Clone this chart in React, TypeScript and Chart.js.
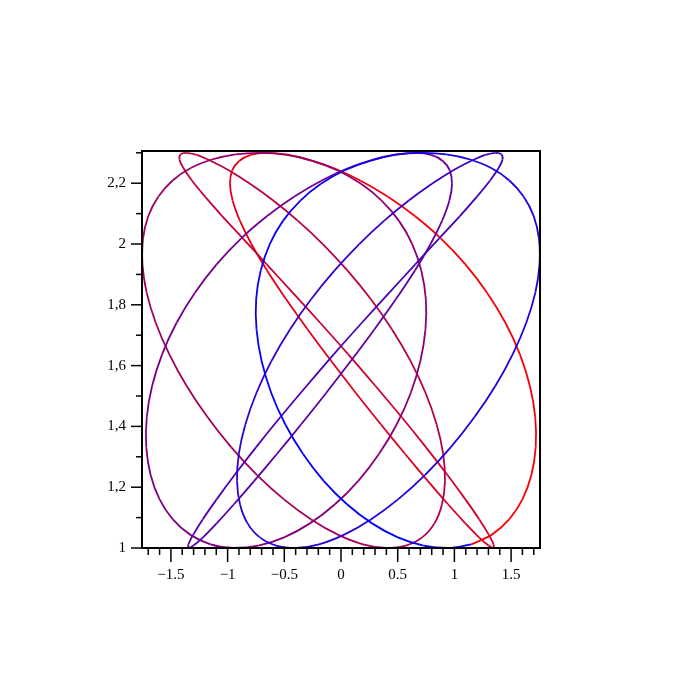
import React, { useEffect, useRef } from "react";
import { Chart, registerables } from "chart.js";
Chart.register(...registerables);

// Axis ticks
const xTicks = [-1.5, -1, -0.5, 0, 0.5, 1, 1.5];
const xTickLabels = ["−1.5", "−1", "−0.5", "0", "0.5", "1", "1.5"];
const yTicks = [1, 1.2, 1.4, 1.6, 1.8, 2, 2.2];
const yTickLabels = ["1", "1,2", "1,4", "1,6", "1,8", "2", "2,2"];
const xMinorTicks = [-1.7, -1.6, -1.4, -1.3, -1.2, -1.1, -0.9, -0.8, -0.7, -0.6, -0.4, -0.3, -0.2, -0.1,
  0.1, 0.2, 0.3, 0.4, 0.6, 0.7, 0.8, 0.9, 1.1, 1.2, 1.3, 1.4, 1.6, 1.7];
const yMinorTicks = [1.1, 1.3, 1.5, 1.7, 1.9, 2.1, 2.3];

// Points along the closed curve, in drawing order (start = red, end = blue)
const curveX = [
  1.150, 1.331, 1.483, 1.600, 1.679, 1.717, 1.713, 1.666, 1.577, 1.450,
  1.288, 1.097, 0.882, 0.651, 0.411, 0.170, -0.065, -0.286, -0.485, -0.657,
  -0.796, -0.898, -0.959, -0.979, -0.956, -0.892, -0.790, -0.652, -0.485, -0.294,
  -0.086, 0.131, 0.351, 0.564, 0.765, 0.944, 1.097, 1.217, 1.301, 1.344,
  1.345, 1.303, 1.220, 1.097, 0.939, 0.750, 0.536, 0.304, 0.062, -0.184,
  -0.426, -0.655, -0.864, -1.048, -1.199, -1.315, -1.390, -1.424, -1.415, -1.364,
  -1.273, -1.146, -0.987, -0.802, -0.598, -0.382, -0.161, 0.056, 0.262, 0.450,
  0.614, 0.746, 0.843, 0.901, 0.917, 0.891, 0.824, 0.716, 0.572, 0.396,
  0.194, -0.028, -0.263, -0.503, -0.740, -0.967, -1.176, -1.361, -1.515, -1.634,
  -1.714, -1.751, -1.746, -1.699, -1.610, -1.485, -1.325, -1.138, -0.930, -0.707,
  -0.477, -0.248, -0.028, 0.177, 0.358, 0.510, 0.628, 0.708, 0.748, 0.745,
  0.700, 0.615, 0.492, 0.336, 0.153, -0.053, -0.274, -0.501, -0.728, -0.947,
  -1.150, -1.331, -1.483, -1.600, -1.679, -1.717, -1.713, -1.666, -1.577, -1.450,
  -1.288, -1.097, -0.882, -0.651, -0.411, -0.170, 0.065, 0.286, 0.485, 0.657,
  0.796, 0.898, 0.959, 0.979, 0.956, 0.892, 0.790, 0.652, 0.485, 0.294,
  0.086, -0.131, -0.351, -0.564, -0.765, -0.944, -1.097, -1.217, -1.301, -1.344,
  -1.345, -1.303, -1.220, -1.097, -0.939, -0.750, -0.536, -0.304, -0.062, 0.184,
  0.426, 0.655, 0.864, 1.048, 1.199, 1.315, 1.390, 1.424, 1.415, 1.364,
  1.273, 1.146, 0.987, 0.802, 0.598, 0.382, 0.161, -0.056, -0.262, -0.450,
  -0.614, -0.746, -0.843, -0.901, -0.917, -0.891, -0.824, -0.716, -0.572, -0.396,
  -0.194, 0.028, 0.263, 0.503, 0.740, 0.967, 1.176, 1.361, 1.515, 1.634,
  1.714, 1.751, 1.746, 1.699, 1.610, 1.485, 1.325, 1.138, 0.930, 0.707,
  0.477, 0.248, 0.028, -0.177, -0.358, -0.510, -0.628, -0.708, -0.748, -0.745,
  -0.700, -0.615, -0.492, -0.336, -0.153, 0.053, 0.274, 0.501, 0.728, 0.947,
  1.150,
];
const curveY = [
  1.012, 1.044, 1.094, 1.160, 1.240, 1.331, 1.430, 1.533, 1.638, 1.741,
  1.840, 1.933, 2.018, 2.092, 2.156, 2.209, 2.250, 2.278, 2.295, 2.300,
  2.293, 2.273, 2.242, 2.198, 2.143, 2.077, 2.000, 1.913, 1.819, 1.719,
  1.615, 1.510, 1.407, 1.310, 1.221, 1.144, 1.081, 1.035, 1.008, 1.000,
  1.012, 1.044, 1.094, 1.160, 1.240, 1.331, 1.430, 1.533, 1.638, 1.741,
  1.840, 1.933, 2.018, 2.092, 2.156, 2.209, 2.250, 2.278, 2.295, 2.300,
  2.293, 2.273, 2.242, 2.198, 2.143, 2.077, 2.000, 1.913, 1.819, 1.719,
  1.615, 1.510, 1.407, 1.310, 1.221, 1.144, 1.081, 1.035, 1.008, 1.000,
  1.012, 1.044, 1.094, 1.160, 1.240, 1.331, 1.430, 1.533, 1.638, 1.741,
  1.840, 1.933, 2.018, 2.092, 2.156, 2.209, 2.250, 2.278, 2.295, 2.300,
  2.293, 2.273, 2.242, 2.198, 2.143, 2.077, 2.000, 1.913, 1.819, 1.719,
  1.615, 1.510, 1.407, 1.310, 1.221, 1.144, 1.081, 1.035, 1.008, 1.000,
  1.012, 1.044, 1.094, 1.160, 1.240, 1.331, 1.430, 1.533, 1.638, 1.741,
  1.840, 1.933, 2.018, 2.092, 2.156, 2.209, 2.250, 2.278, 2.295, 2.300,
  2.293, 2.273, 2.242, 2.198, 2.143, 2.077, 2.000, 1.913, 1.819, 1.719,
  1.615, 1.510, 1.407, 1.310, 1.221, 1.144, 1.081, 1.035, 1.008, 1.000,
  1.012, 1.044, 1.094, 1.160, 1.240, 1.331, 1.430, 1.533, 1.638, 1.741,
  1.840, 1.933, 2.018, 2.092, 2.156, 2.209, 2.250, 2.278, 2.295, 2.300,
  2.293, 2.273, 2.242, 2.198, 2.143, 2.077, 2.000, 1.913, 1.819, 1.719,
  1.615, 1.510, 1.407, 1.310, 1.221, 1.144, 1.081, 1.035, 1.008, 1.000,
  1.012, 1.044, 1.094, 1.160, 1.240, 1.331, 1.430, 1.533, 1.638, 1.741,
  1.840, 1.933, 2.018, 2.092, 2.156, 2.209, 2.250, 2.278, 2.295, 2.300,
  2.293, 2.273, 2.242, 2.198, 2.143, 2.077, 2.000, 1.913, 1.819, 1.719,
  1.615, 1.510, 1.407, 1.310, 1.221, 1.144, 1.081, 1.035, 1.008, 1.000,
  1.012,
];

const framePlugin = {
  id: "frame",
  afterDraw(chart: any) {
    const { ctx, chartArea, scales } = chart;
    const { left, right, top, bottom } = chartArea;
    ctx.save();
    ctx.strokeStyle = "#000";
    ctx.lineWidth = 2;
    ctx.strokeRect(left, top, right - left, bottom - top);
    ctx.lineWidth = 1.5;
    const tick = (x1: number, y1: number, x2: number, y2: number) => {
      ctx.beginPath();
      ctx.moveTo(x1, y1);
      ctx.lineTo(x2, y2);
      ctx.stroke();
    };
    xTicks.forEach((v) => { const p = scales.x.getPixelForValue(v); tick(p, bottom, p, bottom + 14); });
    xMinorTicks.forEach((v) => { const p = scales.x.getPixelForValue(v); tick(p, bottom, p, bottom + 7); });
    yTicks.forEach((v) => { const p = scales.y.getPixelForValue(v); tick(left, p, left - 11, p); });
    yMinorTicks.forEach((v) => { const p = scales.y.getPixelForValue(v); tick(left, p, left - 6, p); });
    ctx.restore();
  },
};

function mix(t: number) {
  const r = Math.round(255 * (1 - t));
  const bl = Math.round(255 * t);
  return `rgb(${r},0,${bl})`;
}

export default function App() {
  const ref = useRef<HTMLCanvasElement>(null);
  useEffect(() => {
    const data = curveX.map((x, i) => ({ x, y: curveY[i] }));
    const n = data.length - 1;
    const chart = new Chart(ref.current!, {
      type: "scatter",
      data: {
        datasets: [
          {
            data,
            showLine: true,
            pointRadius: 0,
            borderWidth: 1.8,
            tension: 0.33,
            borderColor: "rgb(255,0,0)",
            segment: { borderColor: (c: any) => mix((c.p0DataIndex + 0.5) / n) },
          },
        ],
      },
      options: {
        animation: false,
        responsive: false,
        layout: { padding: { top: 143, right: 134, left: 0, bottom: 0 } },
        plugins: { legend: { display: false }, tooltip: { enabled: false } },
        scales: {
          x: {
            type: "linear",
            min: -1.755,
            max: 1.755,
            grid: { display: false, drawTicks: false },
            border: { display: false },
            afterBuildTicks: (s: any) => { s.ticks = xTicks.map((v) => ({ value: v })); },
            afterFit: (s: any) => { s.height = 144; },
            ticks: {
              color: "#000",
              padding: 18,
              maxRotation: 0,
              autoSkip: false,
              font: { family: "Liberation Serif", size: 15 },
              callback: (v: any) => xTickLabels[xTicks.indexOf(Number(v))] ?? "",
            },
          },
          y: {
            type: "linear",
            min: 1,
            max: 2.306,
            grid: { display: false, drawTicks: false },
            border: { display: false },
            afterBuildTicks: (s: any) => { s.ticks = yTicks.map((v) => ({ value: v })); },
            afterFit: (s: any) => { s.width = 134; },
            ticks: {
              color: "#000",
              padding: 16,
              autoSkip: false,
              font: { family: "Liberation Serif", size: 15 },
              callback: (v: any) => yTickLabels[yTicks.indexOf(Number(v))] ?? "",
            },
          },
        },
      },
      plugins: [framePlugin],
    });
    return () => chart.destroy();
  }, []);
  return <canvas ref={ref} width={666} height={684} style={{ display: "block" }} />;
}
